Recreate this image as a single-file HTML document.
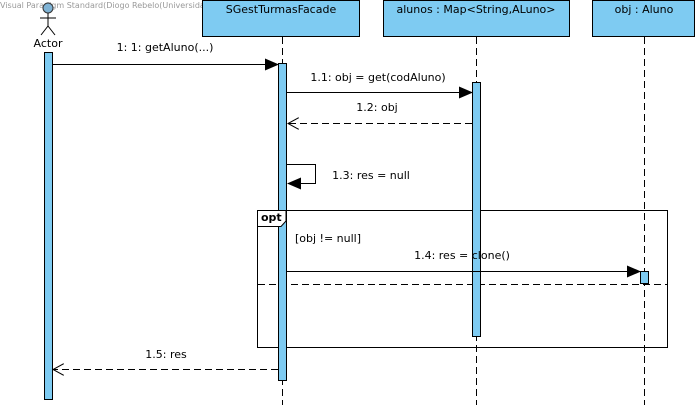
<!DOCTYPE html>
<html><head><meta charset="utf-8"><style>
html,body{margin:0;padding:0;background:#fff;}
svg{display:block;font-family:"DejaVu Sans","Liberation Sans",sans-serif;}
</style></head><body>
<svg width="700" height="405" viewBox="0 0 700 405" xmlns="http://www.w3.org/2000/svg">
<defs>
<marker id="f" markerWidth="14" markerHeight="12" refX="13" refY="6" orient="auto" markerUnits="userSpaceOnUse"><path d="M0,0 L14,6 L0,12 z" fill="#000"/></marker>
<marker id="o" markerWidth="12" markerHeight="12" refX="11" refY="6" orient="auto" markerUnits="userSpaceOnUse"><path d="M0,0 L11,6 L0,12" fill="none" stroke="#000"/></marker>
</defs>
<text x="0" y="8" font-size="8" fill="#999">Visual Paradigm Standard(Diogo Rebelo(Universidade do Minho))</text>
<circle cx="48" cy="8" r="5" fill="#7fb3d5" stroke="#333"/>
<line x1="48" y1="13" x2="48" y2="26" stroke="#000"/>
<line x1="40" y1="18" x2="56" y2="18" stroke="#000"/>
<line x1="48" y1="26" x2="41" y2="35" stroke="#000"/>
<line x1="48" y1="26" x2="55" y2="35" stroke="#000"/>
<text x="48" y="47" font-size="11" text-anchor="middle">Actor</text>
<rect x="202.5" y="0.5" width="157" height="36" fill="#7ecbf2" stroke="#000"/>
<text x="281" y="13" font-size="11" text-anchor="middle">SGestTurmasFacade</text>
<rect x="383.5" y="0.5" width="186" height="36" fill="#7ecbf2" stroke="#000"/>
<text x="476" y="13" font-size="11" text-anchor="middle">alunos : Map&lt;String,ALuno&gt;</text>
<rect x="592.5" y="0.5" width="102" height="36" fill="#7ecbf2" stroke="#000"/>
<text x="644" y="13" font-size="11" text-anchor="middle">obj : Aluno</text>
<g stroke="#000" stroke-dasharray="7,4">
<line x1="282.5" y1="37" x2="282.5" y2="405"/>
<line x1="476.5" y1="37" x2="476.5" y2="405"/>
<line x1="644.5" y1="37" x2="644.5" y2="405"/>
</g>
<rect x="257.5" y="210.5" width="410" height="137" fill="none" stroke="#000"/>
<line x1="258" y1="284.5" x2="667" y2="284.5" stroke="#000" stroke-dasharray="7,4"/>
<text x="295" y="242" font-size="11">[obj != null]</text>
<rect x="44.5" y="52.5" width="8" height="347" fill="#7ecbf2" stroke="#000"/>
<rect x="278.5" y="63.5" width="8" height="317" fill="#7ecbf2" stroke="#000"/>
<rect x="472.5" y="82.5" width="8" height="254" fill="#7ecbf2" stroke="#000"/>
<rect x="640.5" y="271.5" width="8" height="12" fill="#7ecbf2" stroke="#000"/>
<path d="M257.5,210.5 V226.5 H281 L286,221 V210.5 z" fill="#fff" stroke="#000"/>
<text x="261" y="221" font-size="11" font-weight="bold">opt</text>
<g font-size="11" text-anchor="middle">
<line x1="53" y1="64.5" x2="278" y2="64.5" stroke="#000" marker-end="url(#f)"/>
<text x="165" y="51">1: 1: getAluno(...)</text>
<line x1="287" y1="92.5" x2="472" y2="92.5" stroke="#000" marker-end="url(#f)"/>
<text x="378" y="81">1.1: obj = get(codAluno)</text>
<line x1="472" y1="123.5" x2="288" y2="123.5" stroke="#000" stroke-dasharray="7,4" marker-end="url(#o)"/>
<text x="377" y="111">1.2: obj</text>
<path d="M287,164.5 H315.5 V183.5 H288" fill="none" stroke="#000" marker-end="url(#f)"/>
<text x="371" y="179">1.3: res = null</text>
<line x1="287" y1="271.5" x2="640" y2="271.5" stroke="#000" marker-end="url(#f)"/>
<text x="462" y="259">1.4: res = clone()</text>
<line x1="278" y1="369.5" x2="53" y2="369.5" stroke="#000" stroke-dasharray="7,4" marker-end="url(#o)"/>
<text x="166" y="358">1.5: res</text>
</g>
</svg>
</body></html>
